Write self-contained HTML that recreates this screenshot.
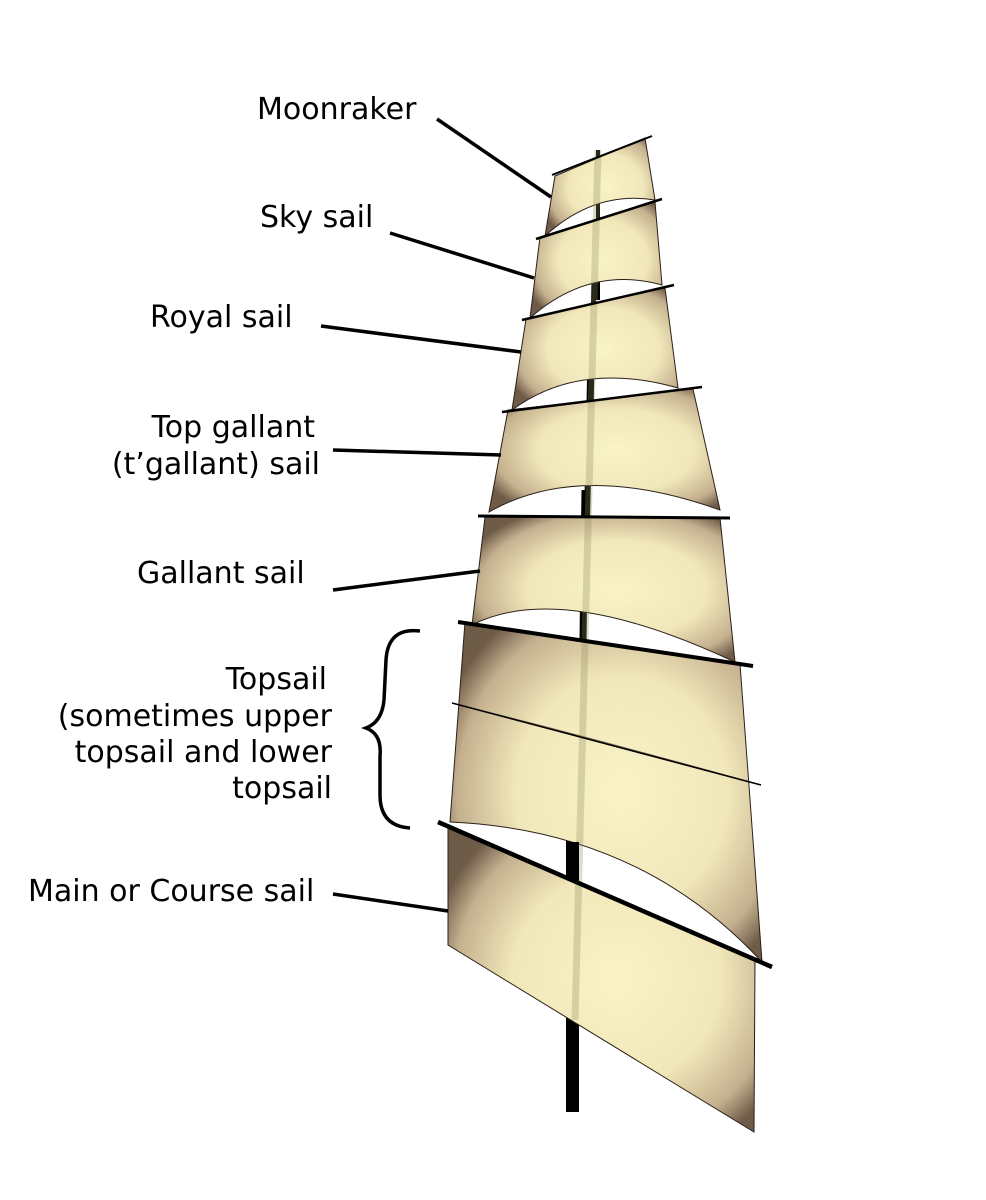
<!DOCTYPE html>
<html><head><meta charset="utf-8"><style>
html,body{margin:0;padding:0;background:#fff}
svg{display:block}
text{font-family:"DejaVu Sans","Liberation Sans",sans-serif;font-size:30px;fill:#000}
</style></head><body>
<svg width="986" height="1200" viewBox="0 0 986 1200" xmlns="http://www.w3.org/2000/svg">
<defs>
<radialGradient id="g" cx="0.55" cy="0.5" r="0.62">
<stop offset="0" stop-color="#f9f3c6"/>
<stop offset="0.55" stop-color="#f1e7ba"/>
<stop offset="0.85" stop-color="#c4b08e"/>
<stop offset="1" stop-color="#6e5b48"/>
</radialGradient>
</defs>
<line x1="598" y1="150" x2="598" y2="300" stroke="#000" stroke-width="4"/>
<line x1="594" y1="280" x2="591" y2="410" stroke="#000" stroke-width="5"/>
<line x1="590" y1="380" x2="587" y2="520" stroke="#000" stroke-width="6"/>
<line x1="585" y1="490" x2="583" y2="640" stroke="#000" stroke-width="7"/>
<rect x="566" y="840" width="13" height="272" fill="#000"/>
<g stroke="#2a2018" stroke-width="1">
<path d="M448,825 L755,958 L754,1132 L448,945 Z" fill="url(#g)"/>
<path d="M465,622 L740,664 L762,962 Q640,830 450,822 Z" fill="url(#g)"/>
<path d="M452,703 Q600,740 761,785" fill="none" stroke="#6b5a48"/>
<path d="M485,517 L720,518 L735,662 Q560,580 472,625 Z" fill="url(#g)"/>
<path d="M508,410 L693,389 L720,510 Q580,460 489,512 Z" fill="url(#g)"/>
<path d="M526,319 L665,288 L678,388 Q580,360 512,410 Z" fill="url(#g)"/>
<path d="M540,237 L655,202 L662,285 Q590,265 530,318 Z" fill="url(#g)"/>
<path d="M555,176 L645,138 L655,200 Q595,190 545,236 Z" fill="url(#g)"/>
</g>
<line x1="598" y1="150" x2="575" y2="1020" stroke="#8a8a5a" stroke-opacity="0.3" stroke-width="7"/>
<rect x="566" y="842" width="13" height="38" fill="#000"/>
<g stroke="#000" stroke-linecap="butt">
<line x1="552" y1="175" x2="652" y2="136" stroke-width="2"/>
<line x1="536" y1="239" x2="662" y2="199" stroke-width="2.5"/>
<line x1="522" y1="320" x2="674" y2="285" stroke-width="2.5"/>
<line x1="502" y1="412" x2="702" y2="387" stroke-width="2.5"/>
<line x1="478" y1="516" x2="730" y2="518" stroke-width="3"/>
<line x1="458" y1="622" x2="753" y2="666" stroke-width="4"/>
<line x1="452" y1="703" x2="761" y2="785" stroke-width="1.5"/>
<line x1="438" y1="822" x2="772" y2="967" stroke-width="4.5"/>
</g>
<g stroke="#000" stroke-width="3.5">
<line x1="437" y1="119" x2="551" y2="197"/>
<line x1="390" y1="233" x2="534" y2="278"/>
<line x1="321" y1="326" x2="521" y2="352"/>
<line x1="333" y1="450" x2="501" y2="455"/>
<line x1="333" y1="590" x2="480" y2="571"/>
<line x1="333" y1="894" x2="448" y2="911"/>
</g>
<path d="M420,631 Q388,627 386,660 L384,700 Q382,722 366,728 Q382,734 380,756 L380,795 Q380,826 410,828" fill="none" stroke="#000" stroke-width="3.5"/>
<text x="257" y="119">Moonraker</text>
<text x="260" y="227">Sky sail</text>
<text x="150" y="327">Royal sail</text>
<text x="315" y="437" text-anchor="end">Top gallant</text>
<text x="320" y="474" text-anchor="end">(t’gallant) sail</text>
<text x="137" y="583">Gallant sail</text>
<text x="327" y="689" text-anchor="end">Topsail</text>
<text x="332" y="726" text-anchor="end">(sometimes upper</text>
<text x="332" y="762" text-anchor="end">topsail and lower</text>
<text x="332" y="798" text-anchor="end">topsail</text>
<text x="28" y="901">Main or Course sail</text>
</svg>
</body></html>
